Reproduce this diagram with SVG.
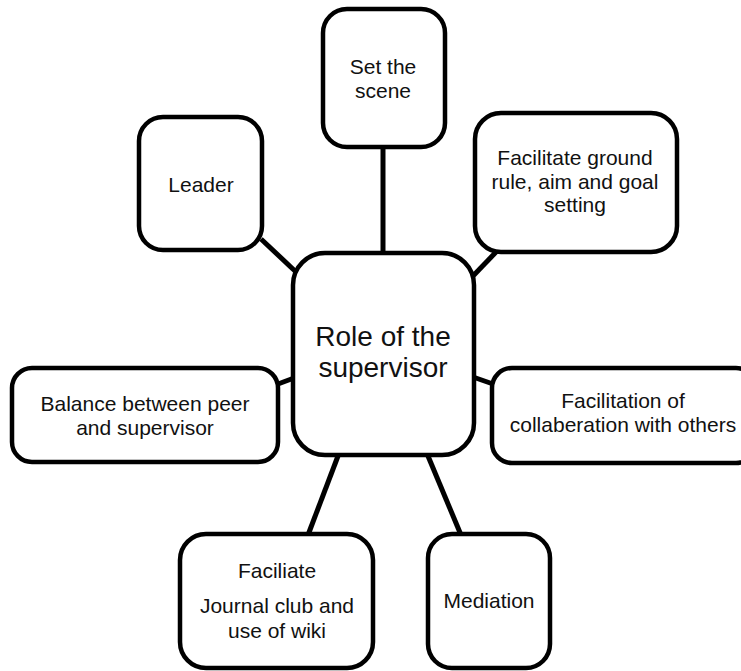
<svg xmlns="http://www.w3.org/2000/svg" width="741" height="671" viewBox="0 0 741 671">
<style>
.box{fill:#fff;stroke:#000;stroke-width:4.5}
.edge{stroke:#000;stroke-width:5;fill:none}
text{font-family:"Liberation Sans",Arial,sans-serif;font-size:21px;fill:#111;text-anchor:middle}
.big{font-size:28px}
</style>
<rect width="741" height="671" fill="#fff"/>
<g id="connectors">
<line class="edge" x1="383" y1="147" x2="383" y2="254"/>
<line class="edge" x1="261" y1="239" x2="295" y2="271"/>
<line class="edge" x1="497" y1="251" x2="473" y2="276"/>
<line class="edge" x1="278" y1="384" x2="294" y2="378"/>
<line class="edge" x1="473" y1="377" x2="493" y2="384"/>
<line class="edge" x1="338" y1="456" x2="308" y2="535"/>
<line class="edge" x1="428" y1="456" x2="461" y2="535"/>
</g>
<g id="set-the-scene">
<rect class="box" x="323" y="9" width="122" height="138" rx="24"/>
<text x="383" y="74">Set the</text>
<text x="383" y="98">scene</text>
</g>
<g id="leader">
<rect class="box" x="139" y="117" width="123" height="133" rx="24"/>
<text x="201" y="192">Leader</text>
</g>
<g id="ground-rule">
<rect class="box" x="475" y="113" width="202" height="139" rx="26"/>
<text x="575" y="165">Facilitate ground</text>
<text x="575" y="189">rule, aim and goal</text>
<text x="575" y="212">setting</text>
</g>
<g id="role">
<rect class="box" x="293" y="253" width="181" height="202" rx="32"/>
<text class="big" x="383" y="346">Role of the</text>
<text class="big" x="383" y="377">supervisor</text>
</g>
<g id="balance">
<rect class="box" x="12" y="368" width="266" height="94" rx="20"/>
<text x="145" y="411">Balance between peer</text>
<text x="145" y="435">and supervisor</text>
</g>
<g id="collaboration">
<rect class="box" x="492" y="368" width="264" height="95" rx="20"/>
<text x="623" y="408">Facilitation of</text>
<text x="623" y="432">collaberation with others</text>
</g>
<g id="journal-club">
<rect class="box" x="180" y="534" width="193" height="134" rx="26"/>
<text x="277" y="578">Faciliate</text>
<text x="277" y="613">Journal club and</text>
<text x="277" y="638">use of wiki</text>
</g>
<g id="mediation">
<rect class="box" x="428" y="534" width="122" height="134" rx="24"/>
<text x="489" y="608">Mediation</text>
</g>
</svg>
